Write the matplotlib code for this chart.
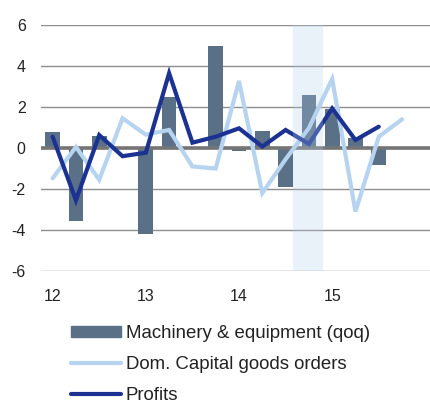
import matplotlib.pyplot as plt
from matplotlib.patches import Patch
from matplotlib.lines import Line2D

plt.rcParams['font.family'] = ['Liberation Sans', 'DejaVu Sans']
plt.rcParams['axes.unicode_minus'] = False

# quarterly data, 2012Q1 .. 2015Q4
machinery = [0.8, -3.55, 0.58, 0.0, -4.2, 2.47, 0.0, 4.97,
             -0.15, 0.85, -1.9, 2.6, 1.9, 0.5, -0.85]
capgoods = [-1.48, 0.05, -1.55, 1.45, 0.65, 0.88, -0.9, -1.0,
            3.27, -2.2, -0.55, 0.97, 3.37, -3.1, 0.55, 1.4]
profits = [0.55, -2.55, 0.63, -0.4, -0.23, 3.65, 0.26, 0.55,
           0.96, 0.07, 0.88, 0.2, 1.93, 0.39, 1.04]
year_ticks = [0, 4, 8, 12]
year_labels = ['12', '13', '14', '15']
y_ticks = [-6, -4, -2, 0, 2, 4, 6]

bar_col = '#5a7087'
light_col = '#b6d3f0'
dark_col = '#1c3293'

fig = plt.figure(figsize=(4.3, 4.03), dpi=100)
ax = fig.add_axes([41 / 430, 1 - 271 / 403, 1 - 41 / 430, 246 / 403])

ax.bar(range(len(machinery)), machinery, width=0.63, color=bar_col, zorder=2)
ax.plot(range(len(capgoods)), capgoods, color=light_col, lw=3, zorder=3,
        solid_capstyle='round', solid_joinstyle='miter')
ax.plot(range(len(profits)), profits, color=dark_col, lw=3, zorder=4,
        solid_capstyle='round', solid_joinstyle='miter')
ax.axhline(0, color='#757575', lw=2.6, zorder=2.5)
ax.axvspan(10.33, 11.6, color='#b3cdea', alpha=0.28, lw=0, zorder=5)

ax.set_xlim(-0.5, 16.2)
ax.set_ylim(-6, 6)
ax.set_yticks(y_ticks)
ax.set_xticks(year_ticks)
ax.set_xticklabels(year_labels)
ax.grid(axis='y', color='#8e8e8e', lw=1)
ax.set_axisbelow(True)
for s in ax.spines.values():
    s.set_visible(False)
ax.tick_params(length=0, labelsize=11.5, colors='#222222')
ax.tick_params(axis='x', pad=13)
ax.tick_params(axis='y', pad=11)

handles = [Patch(color=bar_col),
           Line2D([], [], color=light_col, lw=3, solid_capstyle='round'),
           Line2D([], [], color=dark_col, lw=3, solid_capstyle='round')]
labels = ['Machinery & equipment (qoq)', 'Dom. Capital goods orders', 'Profits']
fig.legend(handles, labels, loc='upper left', bbox_to_anchor=(0.148, 0.212),
           frameon=False, fontsize=13.4, handlelength=2.7, handleheight=0.5,
           handletextpad=0.25, labelspacing=0.74, borderaxespad=0,
           labelcolor='#222222')

fig.savefig('out.png', dpi=100)
